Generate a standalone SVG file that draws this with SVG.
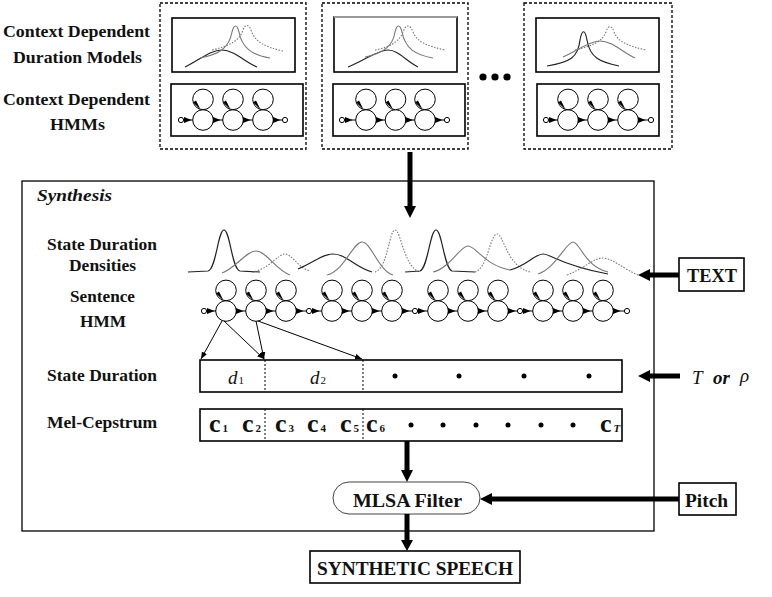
<svg xmlns="http://www.w3.org/2000/svg" xmlns:xlink="http://www.w3.org/1999/xlink" width="772" height="597" viewBox="0 0 772 597">
<style>
.lbl{font-family:"Liberation Serif","Times New Roman",serif;font-weight:bold;font-size:17.5px;fill:#111}
.big{font-size:19px}
.box{fill:none;stroke:#000;stroke-width:1.6}
.dash{fill:none;stroke:#000;stroke-width:1.3;stroke-dasharray:3 2}
.sc{fill:#fff;stroke:#000;stroke-width:1}
.hl{stroke:#000;stroke-width:1;fill:none}
.solid{fill:none;stroke:#222;stroke-width:1.2}
.gray{fill:none;stroke:#777;stroke-width:1.1}
.dot{fill:none;stroke:#777;stroke-width:1.1;stroke-dasharray:1.5 1.5}
.thick{stroke:#000;stroke-width:5}
.it{font-family:"Liberation Serif","Times New Roman",serif;font-style:italic;font-size:19px;fill:#111}
.cc{font-family:"Liberation Serif","Times New Roman",serif;font-weight:bold;font-size:26px;fill:#111}
.sub{font-family:"Liberation Serif","Times New Roman",serif;font-size:11px;fill:#111}
</style>
<defs>
<g id="st">
<circle class="sc" cx="0" cy="0" r="10.3"/>
<circle class="sc" cx="0" cy="-20.6" r="10.3"/>
<polygon points="-10,-17.6 -7,-19.6 -2.5,-10.6" fill="#000"/>
</g>
<polygon id="tri" points="0,-3 7.5,0 0,3" fill="#000"/>
<circle id="sm" class="sc" cx="0" cy="0" r="2.6"/>
<marker id="ah" viewBox="0 0 10 10" refX="10" refY="5" markerWidth="7" markerHeight="7" markerUnits="userSpaceOnUse" orient="auto">
<path d="M0,1 L10,5 L0,9 z" fill="#000"/>
</marker>
</defs>
<rect width="772" height="597" fill="#fff"/>

<g id="labels-left">
<text class="lbl" x="3" y="37" textLength="147" lengthAdjust="spacingAndGlyphs">Context Dependent</text>
<text class="lbl" x="13" y="63" textLength="129" lengthAdjust="spacingAndGlyphs">Duration Models</text>
<text class="lbl" x="3" y="105" textLength="147" lengthAdjust="spacingAndGlyphs">Context Dependent</text>
<text class="lbl" x="50" y="130" textLength="55" lengthAdjust="spacingAndGlyphs">HMMs</text>
</g>

<g id="model1">
<rect class="dash" x="160" y="3" width="146" height="146"/>
<rect class="box" x="172" y="18" width="123" height="54"/>
<path class="solid" d="M185,67 C200,60 210,50 222,50 C234,50 245,62 257,67"/>
<path class="gray" d="M200,58 C220,54 229,48 232,32 C234,24 237,24 239,32 C242,48 252,55 270,58"/>
<path class="dot" d="M212,50 C230,46 240,40 243,30 C245,24 249,24 251,30 C255,42 265,47 283,51"/>
<rect class="box" x="171" y="84" width="132" height="52"/>
<line class="hl" x1="181" y1="120" x2="285" y2="120"/>
<use xlink:href="#sm" x="181" y="120"/>
<use xlink:href="#st" x="203" y="120"/>
<use xlink:href="#st" x="233" y="120"/>
<use xlink:href="#st" x="263" y="120"/>
<use xlink:href="#sm" x="285" y="120"/>
<use xlink:href="#tri" x="184" y="120"/>
<use xlink:href="#tri" x="213" y="120"/>
<use xlink:href="#tri" x="243" y="120"/>
<use xlink:href="#tri" x="273" y="120"/>
</g>

<g id="model2">
<rect class="dash" x="322" y="3" width="146" height="146"/>
<rect class="box" x="334" y="17" width="123" height="55"/>
<line x1="334" y1="17" x2="457" y2="17" stroke="#999" stroke-width="1.8"/>
<path class="solid" d="M348,67 C365,60 378,50 388,50 C398,50 405,60 418,67"/>
<path class="gray" d="M365,57 C385,53 393,45 395,32 C397,24 400,24 402,32 C405,48 415,55 433,58"/>
<path class="dot" d="M375,50 C392,47 400,40 403,32 C406,24 410,24 413,32 C417,42 427,46 445,50"/>
<rect class="box" x="333" y="84" width="132" height="52"/>
<line class="hl" x1="342" y1="120" x2="447" y2="120"/>
<use xlink:href="#sm" x="342" y="120"/>
<use xlink:href="#st" x="366" y="120"/>
<use xlink:href="#st" x="395.5" y="120"/>
<use xlink:href="#st" x="425" y="120"/>
<use xlink:href="#sm" x="447" y="120"/>
<use xlink:href="#tri" x="345" y="120"/>
<use xlink:href="#tri" x="376" y="120"/>
<use xlink:href="#tri" x="405.5" y="120"/>
<use xlink:href="#tri" x="435" y="120"/>
</g>

<g id="ellipsis">
<circle cx="483" cy="77" r="3.6" fill="#000"/>
<circle cx="495" cy="77" r="3.6" fill="#000"/>
<circle cx="507" cy="77" r="3.6" fill="#000"/>
</g>

<g id="model3">
<rect class="dash" x="524" y="3" width="148" height="146"/>
<rect class="box" x="536" y="18" width="123" height="54"/>
<path class="solid" d="M547,66 C570,62 578,58 580,40 C582,29 585,29 587,40 C590,58 600,62 619,66"/>
<path class="gray" d="M563,57 C578,50 590,41 600,41 C612,41 622,52 635,58"/>
<path class="dot" d="M575,50 C592,46 602,42 606,32 C608,25 612,25 614,32 C618,42 628,46 646,50"/>
<rect class="box" x="537" y="84" width="122" height="52"/>
<line class="hl" x1="546" y1="120" x2="651" y2="120"/>
<use xlink:href="#sm" x="546" y="120"/>
<use xlink:href="#st" x="568" y="120"/>
<use xlink:href="#st" x="598" y="120"/>
<use xlink:href="#st" x="628" y="120"/>
<use xlink:href="#sm" x="651" y="120"/>
<use xlink:href="#tri" x="549" y="120"/>
<use xlink:href="#tri" x="578" y="120"/>
<use xlink:href="#tri" x="608" y="120"/>
<use xlink:href="#tri" x="638" y="120"/>
</g>

<g id="synthesis">
<rect x="22" y="181" width="632" height="350" fill="none" stroke="#000" stroke-width="1.3"/>
<text class="lbl" x="37" y="201" font-style="italic" font-size="19" textLength="75" lengthAdjust="spacingAndGlyphs">Synthesis</text>
<text class="lbl" x="47" y="250" textLength="110" lengthAdjust="spacingAndGlyphs">State Duration</text>
<text class="lbl" x="69" y="271" textLength="67" lengthAdjust="spacingAndGlyphs">Densities</text>
<text class="lbl" x="70" y="302" textLength="65" lengthAdjust="spacingAndGlyphs">Sentence</text>
<text class="lbl" x="80" y="327" textLength="46" lengthAdjust="spacingAndGlyphs">HMM</text>
<text class="lbl" x="47" y="381" textLength="110" lengthAdjust="spacingAndGlyphs">State Duration</text>
<text class="lbl" x="47" y="428" textLength="110" lengthAdjust="spacingAndGlyphs">Mel-Cepstrum</text>
</g>

<g id="densities">
<path class="solid" d="M188,272 L208,271 C216,270 218,230 224,230 C230,230 232,270 240,271 L260,272"/>
<path class="gray" d="M222,273 C236,268 246,251 256,251 C266,251 276,270 290,275"/>
<path class="dot" d="M252,272 C268,270 278,254 285,254 C292,254 298,268 310,271"/>
<path class="solid" d="M298,269 C315,262 322,254 333,254 C346,254 356,268 372,272"/>
<path class="gray" d="M327,275 C345,270 353,242 362,242 C371,242 378,270 393,275"/>
<path class="dot" d="M375,272 C388,268 389,230 395,230 C401,230 404,268 420,272"/>
<path class="solid" d="M405,272 L420,271 C428,268 430,230 436,230 C442,230 444,268 452,271 L475,272"/>
<path class="gray" d="M433,272 C450,268 460,246 468,246 C476,246 484,265 510,270"/>
<path class="dot" d="M475,272 C488,268 490,234 497,234 C504,234 506,266 530,272"/>
<path class="solid" d="M510,270 C526,266 535,254 543,254 C551,254 560,265 608,274"/>
<path class="gray" d="M538,274 C556,268 566,242 573,242 C580,242 584,266 608,272"/>
<path class="dot" d="M567,275 C585,268 594,258 602,258 C612,258 622,268 638,275"/>
</g>

<g id="sentence-hmm">
<line class="hl" x1="204" y1="311" x2="627" y2="311"/>
<use xlink:href="#sm" x="204" y="311"/>
<use xlink:href="#st" x="226" y="311"/>
<use xlink:href="#st" x="256" y="311"/>
<use xlink:href="#st" x="286" y="311"/>
<use xlink:href="#sm" x="309" y="311"/>
<use xlink:href="#st" x="332" y="311"/>
<use xlink:href="#st" x="362" y="311"/>
<use xlink:href="#st" x="392" y="311"/>
<use xlink:href="#sm" x="415" y="311"/>
<use xlink:href="#st" x="438" y="311"/>
<use xlink:href="#st" x="468" y="311"/>
<use xlink:href="#st" x="498" y="311"/>
<use xlink:href="#sm" x="520" y="311"/>
<use xlink:href="#st" x="543" y="311"/>
<use xlink:href="#st" x="573" y="311"/>
<use xlink:href="#st" x="603" y="311"/>
<use xlink:href="#sm" x="627" y="311"/>
<use xlink:href="#tri" x="207" y="311"/>
<use xlink:href="#tri" x="236" y="311"/>
<use xlink:href="#tri" x="266" y="311"/>
<use xlink:href="#tri" x="296" y="311"/>
<use xlink:href="#tri" x="312" y="311"/>
<use xlink:href="#tri" x="342" y="311"/>
<use xlink:href="#tri" x="372" y="311"/>
<use xlink:href="#tri" x="402" y="311"/>
<use xlink:href="#tri" x="418" y="311"/>
<use xlink:href="#tri" x="448" y="311"/>
<use xlink:href="#tri" x="478" y="311"/>
<use xlink:href="#tri" x="508" y="311"/>
<use xlink:href="#tri" x="523" y="311"/>
<use xlink:href="#tri" x="553" y="311"/>
<use xlink:href="#tri" x="583" y="311"/>
<use xlink:href="#tri" x="613" y="311"/>
</g>

<g id="state-duration">
<rect class="box" x="200" y="360" width="422" height="32" stroke-width="1.3"/>
<line x1="265" y1="360" x2="265" y2="392" stroke="#000" stroke-width="1" stroke-dasharray="2 2"/>
<line x1="363" y1="360" x2="363" y2="392" stroke="#000" stroke-width="1" stroke-dasharray="2 2"/>
<text class="it" x="228" y="384">d<tspan class="sub" font-style="normal" dx="1">1</tspan></text>
<text class="it" x="310" y="384">d<tspan class="sub" font-style="normal" dx="1">2</tspan></text>
<circle cx="395" cy="376" r="2.5" fill="#000"/>
<circle cx="459" cy="376" r="2.5" fill="#000"/>
<circle cx="524" cy="376" r="2.5" fill="#000"/>
<circle cx="589" cy="376" r="2.5" fill="#000"/>
</g>

<g id="mel-cepstrum">
<rect class="box" x="200" y="409" width="422" height="32" stroke-width="1.3"/>
<line x1="265" y1="409" x2="265" y2="441" stroke="#000" stroke-width="1" stroke-dasharray="2 2"/>
<line x1="363" y1="409" x2="363" y2="441" stroke="#000" stroke-width="1" stroke-dasharray="2 2"/>
<text class="cc" x="209" y="432">c<tspan class="sub" dx="2">1</tspan></text>
<text class="cc" x="242" y="432">c<tspan class="sub" dx="2">2</tspan></text>
<text class="cc" x="275" y="432">c<tspan class="sub" dx="2">3</tspan></text>
<text class="cc" x="307" y="432">c<tspan class="sub" dx="2">4</tspan></text>
<text class="cc" x="340" y="432">c<tspan class="sub" dx="2">5</tspan></text>
<text class="cc" x="366" y="432">c<tspan class="sub" dx="2">6</tspan></text>
<circle cx="411" cy="425" r="2.5" fill="#000"/>
<circle cx="443" cy="425" r="2.5" fill="#000"/>
<circle cx="476" cy="425" r="2.5" fill="#000"/>
<circle cx="508" cy="425" r="2.5" fill="#000"/>
<circle cx="541" cy="425" r="2.5" fill="#000"/>
<circle cx="573" cy="425" r="2.5" fill="#000"/>
<text class="cc" x="600" y="432">c<tspan class="sub" font-style="italic" dx="2">T</tspan></text>
</g>

<g id="text-node">
<rect class="box" x="679" y="258" width="65" height="33" stroke-width="1.3"/>
<text class="lbl big" x="687" y="282" textLength="50" lengthAdjust="spacingAndGlyphs">TEXT</text>
</g>

<g id="t-or-rho">
<text class="it" x="692" y="384">T</text>
<text class="it" x="713" y="384" font-weight="bold">or</text>
<text class="it" x="740" y="382" font-style="normal">ρ</text>
</g>

<g id="mlsa">
<rect x="333" y="482" width="147" height="32" rx="16" fill="#fff" stroke="#444" stroke-width="1"/>
<text class="lbl big" x="353" y="507" textLength="109" lengthAdjust="spacingAndGlyphs">MLSA Filter</text>
</g>

<g id="pitch">
<rect class="box" x="679" y="483" width="57" height="32" stroke-width="1.3"/>
<text class="lbl big" x="685" y="507" textLength="43" lengthAdjust="spacingAndGlyphs">Pitch</text>
</g>

<g id="speech">
<rect class="box" x="310" y="551" width="210" height="32" stroke-width="1.3"/>
<text class="lbl big" x="317" y="575" textLength="196" lengthAdjust="spacingAndGlyphs">SYNTHETIC SPEECH</text>
</g>

<g id="connectors">
<line class="thick" x1="410" y1="152" x2="410" y2="208"/>
<polygon points="404,206 416,206 410,218" fill="#000"/>
<line class="thick" x1="679" y1="275" x2="648" y2="275"/>
<polygon points="650,269 650,281 638,275" fill="#000"/>
<line class="thick" x1="680" y1="376" x2="648" y2="376"/>
<polygon points="650,370 650,382 638,376" fill="#000"/>
<line class="thick" x1="407" y1="441" x2="407" y2="472"/>
<polygon points="401,470 413,470 407,482" fill="#000"/>
<line class="thick" x1="679" y1="499" x2="490" y2="499"/>
<polygon points="492,493 492,505 480,499" fill="#000"/>
<line class="thick" x1="407" y1="514" x2="407" y2="541"/>
<polygon points="401,540 413,540 407,551" fill="#000"/>
<line x1="222" y1="321" x2="201" y2="359" stroke="#000" stroke-width="1" marker-end="url(#ah)"/>
<line x1="224" y1="321" x2="264" y2="359" stroke="#000" stroke-width="1" marker-end="url(#ah)"/>
<line x1="256" y1="321" x2="264" y2="359" stroke="#000" stroke-width="1" marker-end="url(#ah)"/>
<line x1="258" y1="321" x2="362" y2="359" stroke="#000" stroke-width="1" marker-end="url(#ah)"/>
</g>
</svg>
